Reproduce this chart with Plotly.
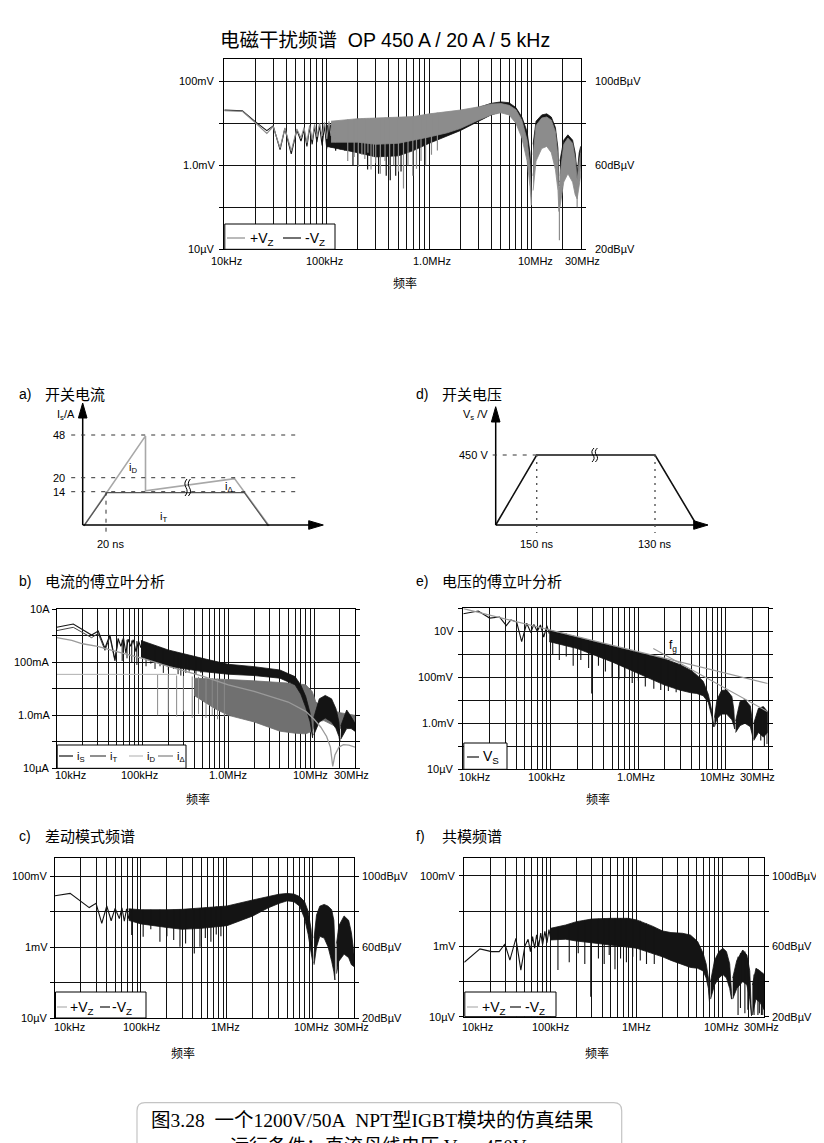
import numpy as np
import plotly.graph_objects as go

W, H = 824, 1143
OFF = 8.0   # page margin of the browser body
SANS = "Liberation Sans, Arial, Noto Sans CJK SC, sans-serif"
SERIF = "Liberation Serif, Noto Sans CJK SC, serif"

# ======================= DATA =======================
# frequencies in kHz; levels in dBuV (voltage) or dBuA (current)

# ---- Top chart: EMI spectrum (+Vz gray, -Vz black)
top_pos_lf_f = [10, 15, 20, 26, 30, 35, 39, 45, 51, 56, 60, 64, 68, 72, 76, 80, 85, 90, 95, 100, 105, 110, 116, 122]
top_pos_lf_db = [86.0, 85.7, 80.3, 75.2, 78.4, 68.2, 77.8, 66.8, 77.3, 73.0, 78.0, 70.5, 79.0, 72.0, 79.5, 73.5, 80.0, 74.0, 80.5, 72.5, 81.0, 74.0, 81.0, 71.0]
top_neg_lf_f = [10, 15, 20, 26, 30, 35, 39, 45, 51, 56, 60, 64, 68, 72, 76, 80, 85, 90, 95, 100, 105, 110, 116, 122, 128, 135, 142, 150]
top_neg_lf_db = [86.3, 86.0, 80.8, 76.5, 78.8, 67.5, 77.5, 65.5, 76.8, 71.5, 77.0, 69.0, 78.0, 70.0, 78.5, 71.0, 79.0, 69.5, 79.0, 68.0, 79.5, 68.5, 79.5, 67.0, 79.5, 67.5, 80.0, 67.0]

top_neg_bands = [
    ([100, 200, 300, 500, 700, 1000, 2000, 3000, 4000, 5000, 6000, 7000, 8000, 9000, 9600, 9900],
     [79, 80.5, 81, 81.5, 82, 83, 85, 87.5, 89.5, 90.2, 89.8, 87.5, 83, 76, 66, 54],
     [69, 66, 64, 64.5, 67, 70.5, 76.5, 81, 84, 85.5, 85, 82, 76, 66, 57, 52]),
    ([10300, 11000, 12500, 14000, 15500, 17000, 18000, 18400],
     [70, 81, 84, 84.5, 83, 78, 68, 55],
     [55, 68, 74, 75, 72, 64, 56, 50]),
    ([18800, 20500, 22500, 25000, 26500, 27700, 29000, 30000],
     [62, 72, 74.5, 72, 66, 56, 66, 69],
     [52, 58, 62, 58, 52, 50, 55, 60]),
]
top_pos_bands = [
    ([110, 200, 300, 500, 700, 1000, 1500, 2000, 3000, 4000, 5000, 6000, 7000, 8000, 9000, 9600, 9900],
     [81, 82.2, 82.5, 82.8, 83.2, 84.5, 85.5, 86.3, 87.8, 89.2, 89.4, 88.6, 86.5, 81.5, 72, 60, 45],
     [71, 71, 70, 70.5, 72, 73.5, 75.5, 77.5, 81.5, 84, 85, 84, 80, 73, 62, 50, 41]),
    ([10300, 11000, 12500, 14000, 15500, 17000, 18000, 18400],
     [65, 79, 82.5, 83, 81.5, 76, 64, 45],
     [48, 62, 68, 69, 66, 58, 48, 38]),
    ([18800, 20500, 22500, 25000, 26500, 27700, 29000, 30000],
     [55, 70, 73, 70.5, 63, 53, 62, 66],
     [40, 52, 56, 52, 46, 44, 50, 55]),
]
top_pos_spk_f = [160, 185, 203, 220, 235, 252, 270, 285, 300, 333, 370, 410, 450, 500, 560, 620, 690, 750, 830, 920, 1050, 1200, 18600, 27700]
top_pos_spk_hi = [81.8, 82.0, 82.2, 82.2, 82.3, 82.3, 82.4, 82.4, 82.5, 82.5, 82.6, 82.7, 82.7, 82.8, 82.9, 83.0, 83.2, 83.4, 83.7, 84.1, 84.6, 85, 50, 50]
top_pos_spk_lo = [62, 64, 59.2, 65, 63, 66, 58, 64, 61, 56, 62, 58, 60, 57, 48.9, 60, 55, 58.4, 62, 60, 65, 67, 24.3, 40]
top_neg_spk_f = [180, 250, 320, 380, 416, 470, 530, 600]
top_neg_spk_hi = [72, 72, 72, 72, 72, 72, 72, 72]
top_neg_spk_lo = [60, 58, 56, 55, 52.9, 55, 57, 60]

# ---- b) current Fourier analysis (dBuA)
b_is_lf_f = [10, 15.6, 25.5, 30.5, 36.5, 41.7, 47.7, 52, 56, 60, 64, 68, 73, 78, 84, 90, 96]
b_is_lf_db = [126.4, 128.9, 120.6, 123.6, 110.6, 120.6, 102, 118, 112, 118.5, 107, 117.5, 112, 117, 108, 116, 111]
b_it_lf_f = [10, 15.6, 25.5, 30.5, 36.5, 41.7, 47.7, 52]
b_it_lf_db = [123.9, 126.4, 118.6, 121.8, 109, 119, 101, 116]
b_is_bands = [
    ([96, 200, 500, 1000, 2000, 4000, 6000, 7000, 8000, 9000, 9600],
     [116.5, 109.3, 103, 98.5, 96.7, 94.2, 89.2, 82.9, 74.1, 61.5, 45],
     [104, 97, 93, 91, 90, 88, 83, 76, 66, 55, 43]),
    ([9900, 11500, 13500, 16000, 18000, 19500, 20000],
     [58, 72.4, 75, 72.4, 65, 55, 43],
     [45, 55, 58, 55, 50, 44, 40]),
    ([20500, 24000, 27000, 30000],
     [52, 64, 59, 54],
     [42, 50, 50, 48]),
]
b_is_spk_f = [58, 66, 75, 86, 110, 125, 140, 160, 175, 200, 230, 260, 280, 320, 350, 420, 480]
b_is_spk_hi = [117, 117, 116.5, 116, 115, 113.5, 112.5, 111.5, 110.5, 109.3, 107.5, 106.5, 105.5, 104.5, 104, 103.5, 103]
b_is_spk_lo = [101, 103, 100, 98, 97, 99, 95, 97, 92, 94, 95, 91, 90, 92, 93, 91, 92]
b_idelta_band_f = [400, 700, 1000, 2000, 4000, 6000, 8000, 9500, 10500, 13000, 20000, 30000]
b_idelta_band_hi = [88, 87.5, 87, 86, 85, 84, 83, 78, 70, 66, 62, 60]
b_idelta_band_lo = [75, 65, 60, 55, 48, 46.5, 46, 48, 55, 56, 50, 52]
b_idelta_spk_f = [150, 200, 250, 300, 380, 450, 550, 650, 750, 900]
b_idelta_spk_hi = [90.5, 90.3, 90, 89.7, 89.3, 89, 88.5, 88, 87.7, 87.3]
b_idelta_spk_lo = [60, 62, 59, 63, 58, 61, 58, 60, 57, 59]
b_idelta_flat_f = [10, 250]
b_idelta_flat_db = [90.9, 90.9]
b_id_f = [10, 15, 20, 30, 50, 100, 200, 500, 1000, 2000, 5000, 8000, 10000, 12000, 14000, 15500, 16500, 17500, 19500, 22000, 25500, 30000]
b_id_db = [118.6, 116.5, 114, 112, 108, 103, 97, 89.5, 83, 78, 70, 63, 57, 51, 44, 36, 21.5, 30, 36, 37.8, 37.5, 36]

# ---- e) voltage Fourier analysis (dBuV)
e_lf_f = [10, 14.8, 20, 26, 31, 35, 40.7, 46.4, 53, 59, 64, 70, 76, 83, 90, 96]
e_lf_db = [155.3, 157.6, 151.5, 152.4, 145, 150, 148, 131, 147, 139, 146, 140, 145.5, 135, 145, 138]
e_bands = [
    ([96, 200, 500, 1000, 2000, 3000, 4000, 4600, 5500, 6300, 6900, 7200],
     [141, 135, 127.5, 122, 116, 111, 106, 102.3, 96.5, 85, 70.5, 59],
     [131, 125, 113.4, 103.3, 93.2, 88.8, 86.5, 86, 84, 78, 66, 57]),
    ([7400, 7900, 8900, 10200, 11700, 12300, 12600],
     [65, 80.5, 88.5, 89, 83.2, 72, 57],
     [57, 64, 68, 68, 63, 58, 55]),
    ([12900, 14500, 16500, 19000, 20000, 20400],
     [62, 79, 80.5, 75, 62, 48.4],
     [52, 58, 60, 57, 50, 46]),
    ([20800, 23500, 26800, 30000],
     [60, 73, 74.5, 70],
     [45, 52, 48, 52]),
]
e_spk_f = [105, 125, 150, 180, 220, 270, 293, 350, 420, 500, 600, 700, 850, 1000, 1200, 1500, 1800, 2200, 2700, 25000, 27500, 29500]
e_spk_hi = [140.5, 139, 138, 136.5, 134.5, 132.5, 131.5, 130, 128.5, 127.5, 126, 124.5, 123.2, 122, 120.5, 118.5, 117, 115, 112.5, 74, 73, 71]
e_spk_lo = [120, 115, 118, 110, 115, 108, 86, 110, 105, 100, 98, 100, 95, 97, 92, 90, 89, 88, 87, 45, 40, 42]
e_asym1_f = [10, 30000]
e_asym1_db = [159.7, 94.6]
e_asym2_f = [1480, 30000]
e_asym2_db = [125, 70.1]

# ---- c) differential mode spectrum (dBuV)
c_lf_f = [10, 15, 25, 30, 35, 40, 45, 50, 56, 60, 64, 68, 72, 77]
c_lf_db = [88.9, 90.2, 82.2, 84.6, 73.3, 83.1, 74.8, 81.8, 76.0, 82.0, 74.5, 81.5, 76.0, 81.5]
c_bands = [
    ([72, 100, 200, 300, 500, 1000, 2000, 3000, 4000, 5000, 6000, 7000, 8000, 8800, 9500, 10000],
     [81.5, 81, 81, 81.2, 82, 83.1, 86.5, 88.4, 89.7, 90.2, 89.8, 88.4, 85.5, 80, 70, 55],
     [75, 73, 71, 70, 70.5, 72, 77.5, 82, 84.5, 86, 85.5, 83, 76, 67, 57, 50.8]),
    ([10300, 11000, 12000, 13500, 15000, 16500, 17500, 18000],
     [65, 78, 83, 84, 83, 81, 75, 60],
     [50, 60, 66, 65, 60, 52, 46, 41.4]),
    ([18800, 20000, 23000, 26000, 28000, 30000],
     [62, 72, 77.5, 75, 68, 56],
     [45, 52, 56, 54, 50, 49]),
]
c_spk_f = [78, 106, 130, 166, 200, 240, 284, 330, 417, 485, 560, 650, 750, 850]
c_spk_hi = [81, 81, 81, 81, 81, 81, 81.1, 81.2, 81.6, 81.8, 82.1, 82.5, 82.8, 83]
c_spk_lo = [66.8, 65.8, 70, 63, 66, 64, 60.2, 62, 56.4, 60.2, 65, 63, 67, 66]

# ---- f) common mode spectrum (dBuV)
f_lf_f = [10, 15.2, 20.7, 25.4, 29.6, 33.8, 39.7, 45.3, 50.5, 55, 58.5, 62, 65.5, 69, 73, 77, 81, 86, 91, 96, 100]
f_lf_db = [50.9, 58.5, 57, 57, 61.3, 52.2, 64.5, 46.5, 60.2, 64, 57, 65.5, 59, 66.5, 60, 67.5, 61, 68.5, 62, 69.5, 65]
f_bands = [
    ([100, 150, 200, 300, 500, 800, 1000, 1500, 2000, 2500, 3400, 4200, 5100, 5900, 6400, 6800, 7000],
     [70.2, 72.1, 74, 75.5, 75.9, 75.9, 75, 71.6, 68.7, 67.8, 67.4, 66.4, 62.7, 56, 50, 42, 29.5],
     [63.6, 64, 63, 62, 60.5, 59.5, 58.9, 56, 54, 52, 49.5, 48, 47.5, 46, 42, 36, 28]),
    ([7200, 8000, 9000, 10000, 11000, 12000, 12600],
     [40, 52, 57, 58.9, 57, 50, 33.3],
     [30, 38, 42, 44, 42, 36, 30]),
    ([13000, 14500, 17000, 19000, 20500, 21500],
     [42, 52, 57.9, 55, 46, 21],
     [30, 36, 40, 38, 30, 20.5]),
    ([22000, 24200, 27000, 29400, 30000],
     [38, 47.5, 46, 44.6, 44],
     [21, 30, 28, 25, 24]),
]
f_spk_f = [122, 165, 210, 250, 293, 360, 420, 480, 560, 650, 760, 900, 1100, 1300, 1600,
           15000, 16000, 18000, 19500, 23000, 25500, 26500, 28000, 29000]
f_spk_hi = [71, 72.5, 74, 75, 75.5, 75.7, 75.8, 75.9, 75.9, 75.9, 75.9, 75.5, 74.5, 73, 71,
            54, 56, 57, 53, 44, 47, 46, 45, 45]
f_spk_lo = [46.5, 51, 56, 50, 31.4, 53, 50, 55, 47, 53, 51, 54, 52, 50, 50,
            21, 25, 22, 24, 21, 21, 22, 21, 21]

# ---- a) switching current schematic (schematic units, not to scale)
a_it_t = [0, 23.3, 160.5, 184.5]
a_it_lvl = [0, 33.3, 33.3, 0]
a_is_t = [0, 61.6, 61.6, 150.6, 185.3]
a_is_lvl = [0, 90, 35, 47.3, 0]
a_levels = [33.3, 47.3, 90]
a_level_text = ['14', '20', '48']
a_tmark = 23.3

# ---- d) switching voltage schematic
d_vs_t = [0, 41, 159.3, 201]
d_vs_lvl = [0, 70, 70, 0]
d_level = 70
d_tmarks = [41, 159.3]
d_tmark_text = ['150 ns', '130 ns']

# ======================= HELPERS =======================
def amp(db):
    return 1e-6 * 10 ** (np.asarray(db, float) / 20.0)

def hz(k):
    return np.asarray(k, float) * 1e3

def px(x):
    return (x - OFF) / W

def py(y):
    return 1 - (y - OFF) / H

fig = go.Figure()
layout = {}

def axname(kind, n):
    return (kind + 'axis') if n == 1 else f'{kind}axis{n}'

def axref(kind, n):
    return kind if n == 1 else f'{kind}{n}'

grid_f = [k * 10 ** d for d in range(4, 8) for k in range(1, 10) if k * 10 ** d <= 3e7]

panels = {
    'top': dict(n=1, x0=224.3, x1=580.7, y0=59.3, y1=249.3, yr=[-5, -0.476]),
    'b': dict(n=2, x0=56.7, x1=355.0, y0=609.3, y1=768.3, yr=[-5, 1]),
    'e': dict(n=3, x0=463.3, x1=767.7, y0=608.3, y1=769.3, yr=[-5, 2]),
    'c': dict(n=4, x0=55.0, x1=354.0, y0=858.0, y1=1018.0, yr=[-5, -0.493]),
    'f': dict(n=5, x0=464.3, x1=764.0, y0=858.3, y1=1016.7, yr=[-5, -0.5]),
}

for key, p in panels.items():
    n = p['n']
    layout[axname('x', n)] = dict(
        type='log', range=[4, np.log10(3e7)], domain=[px(p['x0']), px(p['x1'])],
        anchor=axref('y', n), tickvals=grid_f, showticklabels=False, ticks='',
        showgrid=True, gridcolor='#111', gridwidth=1, showline=True, linecolor='black',
        linewidth=1, mirror=True, zeroline=False, fixedrange=True)
    lo, hi = p['yr']
    layout[axname('y', n)] = dict(
        type='log', range=p['yr'], domain=[py(p['y1']), py(p['y0'])],
        anchor=axref('x', n), tickvals=[10.0 ** k for k in range(int(np.floor(lo)), int(np.ceil(hi)) + 1)],
        showticklabels=False, ticks='outside', ticklen=4, tickcolor='black', tickwidth=1,
        showgrid=True, gridcolor='#111', gridwidth=1, showline=True, linecolor='black',
        linewidth=1, mirror='ticks', zeroline=False, fixedrange=True)

def lin_axes(n, ox, oy, xr, yr, dx=0.0, dy=0.0):
    layout[axname('x', n)] = dict(range=xr, domain=[px(ox + xr[0] + dx), px(ox + xr[1] + dx)],
                                  anchor=axref('y', n), visible=False, fixedrange=True)
    layout[axname('y', n)] = dict(range=yr, domain=[py(oy - yr[0] + dy), py(oy - yr[1] + dy)],
                                  anchor=axref('x', n), visible=False, fixedrange=True)

A_OX, A_OY = 82.7, 525.0
D_OX, D_OY = 495.7, 525.0
lin_axes(6, A_OX, A_OY, [-20, 250], [-15, 130])
lin_axes(7, A_OX, A_OY, [-20, 250], [-15, 130], dx=1.2, dy=0.9)
lin_axes(8, D_OX, D_OY, [-40, 220], [-15, 130])

def tr(n, x, y, **kw):
    fig.add_trace(go.Scatter(x=x, y=y, xaxis=axref('x', n), yaxis=axref('y', n),
                             hoverinfo='skip', showlegend=False, **kw))

def line(n, f, db, color, w=1.0):
    tr(n, hz(f), amp(db), mode='lines', line=dict(color=color, width=w))

def band(n, f, hi, lo, color):
    x = np.concatenate([hz(f), hz(f)[::-1]])
    y = np.concatenate([amp(hi), amp(lo)[::-1]])
    tr(n, x, y, mode='lines', fill='toself', fillcolor=color, line=dict(color=color, width=0.8))

def spikes(n, f, hi, lo, color, w=1.0):
    xs, ys = [], []
    for fi, h, l in zip(f, hi, lo):
        xs += [fi * 1e3, fi * 1e3, None]
        ys += [float(amp(h)), float(amp(l)), None]
    tr(n, xs, ys, mode='lines', line=dict(color=color, width=w))

BLK = '#141414'
GRY = '#8c8c8c'

# ---- top chart
n = 1
for f_, h_, l_ in top_neg_bands:
    band(n, f_, h_, l_, BLK)
spikes(n, top_neg_spk_f, top_neg_spk_hi, top_neg_spk_lo, BLK, 1.2)
line(n, top_neg_lf_f, top_neg_lf_db, BLK, 1.1)
for f_, h_, l_ in top_pos_bands:
    band(n, f_, h_, l_, GRY)
spikes(n, top_pos_spk_f, top_pos_spk_hi, top_pos_spk_lo, GRY, 1.2)
line(n, top_pos_lf_f, top_pos_lf_db, GRY, 1.1)

# ---- b chart
n = 2
band(n, b_idelta_band_f, b_idelta_band_hi, b_idelta_band_lo, '#707070')
spikes(n, b_idelta_spk_f, b_idelta_spk_hi, b_idelta_spk_lo, '#8a8a8a', 1.0)
line(n, b_idelta_flat_f, b_idelta_flat_db, '#b0b0b0', 1.0)
for f_, h_, l_ in b_is_bands:
    band(n, f_, h_, l_, BLK)
spikes(n, b_is_spk_f, b_is_spk_hi, b_is_spk_lo, BLK, 1.0)
line(n, b_it_lf_f, b_it_lf_db, '#444444', 1.0)
line(n, b_is_lf_f, b_is_lf_db, BLK, 1.1)
line(n, b_id_f, b_id_db, '#9a9a9a', 1.3)

# ---- e chart
n = 3
for f_, h_, l_ in e_bands:
    band(n, f_, h_, l_, BLK)
spikes(n, e_spk_f, e_spk_hi, e_spk_lo, BLK, 1.1)
line(n, e_lf_f, e_lf_db, BLK, 1.1)
line(n, e_asym1_f, e_asym1_db, '#999999', 1.1)
line(n, e_asym2_f, e_asym2_db, '#999999', 1.1)

# ---- c chart
n = 4
for f_, h_, l_ in c_bands:
    band(n, f_, h_, l_, BLK)
spikes(n, c_spk_f, c_spk_hi, c_spk_lo, BLK, 1.1)
line(n, c_lf_f, c_lf_db, BLK, 1.1)

# ---- f chart
n = 5
for f_, h_, l_ in f_bands:
    band(n, f_, h_, l_, BLK)
spikes(n, f_spk_f, f_spk_hi, f_spk_lo, BLK, 1.1)
line(n, f_lf_f, f_lf_db, BLK, 1.1)

# ---- a) schematic
tr(7, a_is_t, a_is_lvl, mode='lines', line=dict(color='#a8a8a8', width=1.6))
tr(7, a_it_t, a_it_lvl, mode='lines', line=dict(color='#555555', width=1.2))
tr(6, a_it_t, a_it_lvl, mode='lines', line=dict(color='#4a56b0', width=1.6))
tr(6, a_is_t, a_is_lvl, mode='lines', line=dict(color='#111111', width=1.5))
# ---- d) schematic
tr(8, d_vs_t, d_vs_lvl, mode='lines', line=dict(color='#111111', width=1.6))

shapes = []
ann = []

def cline(x0, y0, x1, y1, color='black', w=1.0, dash=None, ref=None):
    if ref is None:
        d = dict(xref='paper', yref='paper', x0=px(x0), y0=py(y0), x1=px(x1), y1=py(y1))
    else:
        d = dict(xref=ref[0], yref=ref[1], x0=x0, y0=y0, x1=x1, y1=y1)
    d.update(type='line', line=dict(color=color, width=w, dash=dash), layer='above')
    shapes.append(d)

def crect(x0, y0, x1, y1, fill='white', color='black', w=1.0):
    shapes.append(dict(type='rect', xref='paper', yref='paper', x0=px(x0), y0=py(y0), x1=px(x1), y1=py(y1),
                       fillcolor=fill, line=dict(color=color, width=w), layer='above'))

def cpath(path, ref, fill=None, color='black', w=1.0):
    d = dict(type='path', xref=ref[0], yref=ref[1], path=path, line=dict(color=color, width=w), layer='above')
    if fill:
        d['fillcolor'] = fill
    shapes.append(d)

def ctext(x, y, text, size=11, xanchor='center', yanchor='middle', family=SANS, color='black',
          xref='px', yref='px', xshift=0):
    if xref == 'px':
        x, xref = px(x), 'paper'
    if yref == 'px':
        y, yref = py(y), 'paper'
    ann.append(dict(xref=xref, yref=yref, x=x, y=y, text=text, showarrow=False, xanchor=xanchor,
                    yanchor=yanchor, xshift=xshift, font=dict(size=size, family=family, color=color)))

# ---- axis labels for spectra
xlab = ['10kHz', '100kHz', '1.0MHz', '10MHz', '30MHz']
xlab_m = ['10kHz', '100kHz', '1MHz', '10MHz', '30MHz']
xlab_f = [1e4, 1e5, 1e6, 1e7, 3e7]

def xlabels(n, texts, ypx, shifts):
    for f_, t, s in zip(xlab_f, texts, shifts):
        ctext(np.log10(f_), ypx, t, size=11, xref=axref('x', n), xshift=s)

def ylabels(n, vals, texts, xpx, anchor):
    for v_, t in zip(vals, texts):
        ctext(xpx, np.log10(v_), t, size=11, xanchor=anchor, yref=axref('y', n))

xlabels(1, xlab, 260.7, [2, -2, 3, 4, 2])
ylabels(1, [1e-1, 1e-3, 1e-5], ['100mV', '1.0mV', '10µV'], 216.5, 'right')
ylabels(1, [1e-1, 1e-3, 1e-5], ['100dBµV', '60dBµV', '20dBµV'], 592.5, 'left')
ctext(405, 283, '频率', size=12)

xlabels(2, xlab, 775, [14, -2.5, 0, -3.5, -4])
ylabels(2, [10, 1e-1, 1e-3, 1e-5], ['10A', '100mA', '1.0mA', '10µA'], 51.5, 'right')
ctext(198, 799, '频率', size=12)

xlabels(3, xlab, 777, [11, -4, -2, -8, -10])
ylabels(3, [10, 1e-1, 1e-3, 1e-5], ['10V', '100mV', '1.0mV', '10µV'], 456.5, 'right')
ctext(598, 799, '频率', size=12)

xlabels(4, xlab_m, 1026.7, [14, 1, -1, -1, -3])
ylabels(4, [1e-1, 1e-3, 1e-5], ['100mV', '1mV', '10µV'], 50, 'right')
ylabels(4, [1e-1, 1e-3, 1e-5], ['100dBµV', '60dBµV', '20dBµV'], 360, 'left')
ctext(183, 1053, '频率', size=12)

xlabels(5, xlab_m, 1026.7, [13.5, 0.5, 0, -1, -3])
ylabels(5, [1e-1, 1e-3, 1e-5], ['100mV', '1mV', '10µV'], 457.5, 'right')
ylabels(5, [1e-1, 1e-3, 1e-5], ['100dBµV', '60dBµV', '20dBµV'], 770, 'left')
ctext(597, 1053, '频率', size=12)

# ---- legends
crect(224.8, 224, 335, 249.3)
cline(227, 238, 245, 238, color=GRY, w=1.2)
ctext(248, 238.5, '+V<sub>Z</sub>', size=14, xanchor='left')
cline(283, 238, 301, 238, color=BLK, w=1.2)
ctext(303, 238.5, '-V<sub>Z</sub>', size=14, xanchor='left')

crect(57.2, 745, 186, 768.3)
cline(59, 756, 73, 756, color=BLK, w=1.2); ctext(75, 756.5, 'i<sub>S</sub>', size=11, xanchor='left')
cline(90, 756, 106, 756, color='#444444', w=1.2); ctext(108, 756.5, 'i<sub>T</sub>', size=11, xanchor='left')
cline(129, 756, 143, 756, color='#bbbbbb', w=1.2); ctext(145, 756.5, 'i<sub>D</sub>', size=11, xanchor='left')
cline(158, 756, 173, 756, color='#808080', w=1.2); ctext(175, 756.5, 'i<sub>Δ</sub>', size=11, xanchor='left')

crect(463.8, 743, 507, 769.3)
cline(467, 757, 479, 757, color=BLK, w=1.2)
ctext(481, 757, 'V<sub>S</sub>', size=14, xanchor='left')

crect(55.5, 992, 146, 1018)
cline(57, 1007, 67, 1007, color='#b0b0b0', w=1.2)
ctext(68, 1007.5, '+V<sub>Z</sub>', size=14, xanchor='left')
cline(100, 1007, 110, 1007, color=BLK, w=1.2)
ctext(110, 1007.5, '-V<sub>Z</sub>', size=14, xanchor='left')

crect(464.8, 992, 556, 1016.7)
cline(467, 1007, 478, 1007, color='#b0b0b0', w=1.2)
ctext(480, 1007.5, '+V<sub>Z</sub>', size=14, xanchor='left')
cline(510, 1007, 521, 1007, color=BLK, w=1.2)
ctext(523, 1007.5, '-V<sub>Z</sub>', size=14, xanchor='left')

ctext(673, 646, 'f<sub>g</sub>', size=12)

# ---- titles
ctext(385, 40, '电磁干扰频谱\u00a0\u00a0OP 450 A / 20 A / 5 kHz', size=19.5)
ctext(17, 394, 'a)', size=14, xanchor='left')
ctext(43, 394, '开关电流', size=15, xanchor='left')
ctext(414, 394, 'd)', size=14, xanchor='left')
ctext(440, 394, '开关电压', size=15, xanchor='left')
ctext(17, 581, 'b)', size=14, xanchor='left')
ctext(43, 581, '电流的傅立叶分析', size=15, xanchor='left')
ctext(414, 581, 'e)', size=14, xanchor='left')
ctext(440, 581, '电压的傅立叶分析', size=15, xanchor='left')
ctext(17, 836, 'c)', size=14, xanchor='left')
ctext(43, 836, '差动模式频谱', size=15, xanchor='left')
ctext(414, 836, 'f)', size=14, xanchor='left')
ctext(440, 836, '共模频谱', size=15, xanchor='left')

# ---- a) schematic decorations
A = ('x6', 'y6')
cline(0, 0, 228, 0, w=1.5, ref=A)
cline(0, 0, 0, 110, w=1.5, ref=A)
cpath('M 240.6 0 L 226 4.3 L 226 -4.3 Z', A, fill='black')
cpath('M 0 122 L 4.3 107 L -4.3 107 Z', A, fill='black')
for lv, t in zip(a_levels, a_level_text):
    cline(-11.5, lv, 214, lv, color='#333333', w=1.0, dash='4px,6px', ref=A)
    ctext(-16, lv, t, size=11, xanchor='right', xref='x6', yref='y6')
cline(a_tmark, a_levels[0], a_tmark, -7, color='#333333', w=1.0, dash='4px,5px', ref=A)
ctext(a_tmark + 4, -11, '20 ns', size=11, yanchor='top', xref='x6', yref='y6')
ctext(-6, 110, 'I<sub>s</sub>/A', size=11, xanchor='right', xref='x6', yref='y6')
ctext(50.5, 57, 'i<sub>D</sub>', size=11, xref='x6', yref='y6')
ctext(146.5, 38, 'i<sub>Δ</sub>', size=11, xref='x6', yref='y6')
ctext(80.5, 8, 'i<sub>T</sub>', size=11, xref='x6', yref='y6')
for s in (0.0, 3.4):
    cpath(f'M {102.3+s} 29 Q {106+s} 33 {103.3+s} 37.5 Q {100.6+s} 42 {104.3+s} 46', A, w=1.0)

# ---- d) schematic decorations
D = ('x8', 'y8')
cline(0, 0, 200, 0, w=1.5, ref=D)
cline(0, 0, 0, 106, w=1.5, ref=D)
cpath('M 212.3 0 L 198 4.3 L 198 -4.3 Z', D, fill='black')
cpath('M 0 118.3 L 4.3 103 L -4.3 103 Z', D, fill='black')
cline(-3, d_level, d_tmarks[0], d_level, color='#333333', w=1.0, dash='4px,6px', ref=D)
for tm, t in zip(d_tmarks, d_tmark_text):
    cline(tm, d_level, tm, -8, color='#555555', w=1.4, dash='2px,5px', ref=D)
    ctext(tm, -11, t, size=11, yanchor='top', xref='x8', yref='y8')
ctext(-6, d_level, '450 V', size=11, xanchor='right', xref='x8', yref='y8')
ctext(-6, 110, 'V<sub>s</sub> /V', size=11, xanchor='right', xref='x8', yref='y8')
for s in (0.0, 3.4):
    cpath(f'M {96.3+s} 63 Q {100+s} 66.5 {97.3+s} 70 Q {94.6+s} 73.5 {98.3+s} 77', D, w=1.0)

# ---- caption box (paper coordinates)
def P(x, y):
    return f'{px(x):.5f},{py(y):.5f}'
cap_path = (f'M {P(145, 1102.7)} L {P(613.7, 1102.7)} Q {P(621.7, 1102.7)} {P(621.7, 1110.7)} '
            f'L {P(621.7, 1180)} L {P(137, 1180)} L {P(137, 1110.7)} Q {P(137, 1102.7)} {P(145, 1102.7)} Z')
cpath(cap_path, ('paper', 'paper'), color='#c4c4c4', w=1.2)
ctext(372.5, 1120, '图3.28\u00a0\u00a0一个1200V/50A\u00a0\u00a0NPT型IGBT模块的仿真结果', size=19.5, family=SERIF)
ctext(378, 1148, '运行条件：直流母线电压 V<sub>d</sub> = 450V', size=19, family=SERIF)

layout.update(width=W, height=H, margin=dict(l=0, r=0, t=0, b=0), paper_bgcolor='white',
              plot_bgcolor='white', showlegend=False, shapes=shapes, annotations=ann,
              font=dict(family=SANS, size=11, color='black'))
fig.update_layout(**layout)
fig.write_html('out.html')
